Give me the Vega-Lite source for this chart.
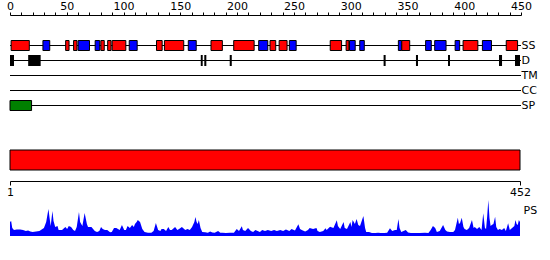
{
  "$schema": "https://vega.github.io/schema/vega-lite/v6.json",
  "padding": {"left": 6, "top": 0, "right": 5, "bottom": 0},
  "bounds": "flush",
  "spacing": 30,
  "config": {
    "view": {"stroke": null},
    "font": "DejaVu Sans",
    "axis": {"labelFont": "DejaVu Sans", "labelFontSize": 11, "labelColor": "#000", "domainColor": "#000", "tickColor": "#000", "grid": false, "title": null}
  },
  "resolve": {"scale": {"x": "independent", "y": "independent"}},
  "datasets": {
    "tracks": [
      {"track": "SS", "start": 0, "end": 450},
      {"track": "D", "start": 0, "end": 450},
      {"track": "TM", "start": 0, "end": 450},
      {"track": "CC", "start": 0, "end": 450},
      {"track": "SP", "start": 0, "end": 450}
    ],
    "features": [
      {"track": "SS", "type": "H", "start": 1, "end": 17},
      {"track": "SS", "type": "E", "start": 29, "end": 35},
      {"track": "SS", "type": "H", "start": 49, "end": 52},
      {"track": "SS", "type": "H", "start": 56, "end": 59},
      {"track": "SS", "type": "E", "start": 60, "end": 70},
      {"track": "SS", "type": "E", "start": 75, "end": 79},
      {"track": "SS", "type": "H", "start": 80, "end": 83},
      {"track": "SS", "type": "H", "start": 86, "end": 89},
      {"track": "SS", "type": "H", "start": 90, "end": 102},
      {"track": "SS", "type": "E", "start": 105, "end": 112},
      {"track": "SS", "type": "H", "start": 129, "end": 134},
      {"track": "SS", "type": "H", "start": 136, "end": 153},
      {"track": "SS", "type": "E", "start": 157, "end": 164},
      {"track": "SS", "type": "H", "start": 177, "end": 187},
      {"track": "SS", "type": "H", "start": 197, "end": 215},
      {"track": "SS", "type": "E", "start": 219, "end": 227},
      {"track": "SS", "type": "H", "start": 229, "end": 234},
      {"track": "SS", "type": "H", "start": 237, "end": 244},
      {"track": "SS", "type": "E", "start": 246, "end": 252},
      {"track": "SS", "type": "H", "start": 282, "end": 292},
      {"track": "SS", "type": "H", "start": 296, "end": 298.5},
      {"track": "SS", "type": "E", "start": 299, "end": 304},
      {"track": "SS", "type": "E", "start": 308, "end": 312},
      {"track": "SS", "type": "E", "start": 342, "end": 345},
      {"track": "SS", "type": "H", "start": 345, "end": 352},
      {"track": "SS", "type": "E", "start": 366, "end": 371},
      {"track": "SS", "type": "E", "start": 374, "end": 384},
      {"track": "SS", "type": "E", "start": 392, "end": 396},
      {"track": "SS", "type": "H", "start": 399, "end": 412},
      {"track": "SS", "type": "E", "start": 416, "end": 424},
      {"track": "SS", "type": "H", "start": 437, "end": 447},
      {"track": "SP", "type": "SP", "start": 0, "end": 19}
    ],
    "disorder": [
      {"track": "D", "start": 0, "end": 3.5},
      {"track": "D", "start": 16, "end": 27},
      {"track": "D", "start": 168, "end": 169.7},
      {"track": "D", "start": 171.1, "end": 172.9},
      {"track": "D", "start": 193.5, "end": 195.3},
      {"track": "D", "start": 329, "end": 330.8},
      {"track": "D", "start": 357.5, "end": 359.3},
      {"track": "D", "start": 385.7, "end": 387.5},
      {"track": "D", "start": 430.6, "end": 433.3},
      {"track": "D", "start": 444.7, "end": 449.1}
    ],
    "seq": [{"start": 1, "end": 452}],
    "profile": [
      {"r":1,"h":14},{"r":2,"h":15},{"r":3,"h":8},{"r":4.5,"h":6},{"r":7,"h":6.5},{"r":10,"h":6.5},{"r":12.5,"h":6},{"r":15,"h":5},{"r":17,"h":5.5},{"r":19,"h":4.5},{"r":21,"h":4},{"r":24,"h":4.5},{"r":27,"h":5},{"r":29,"h":6.5},{"r":31,"h":8},{"r":33,"h":14},{"r":35,"h":27},{"r":36,"h":18},{"r":37,"h":10},{"r":38.5,"h":25},{"r":39.5,"h":15},{"r":41,"h":9},{"r":43,"h":10},{"r":44,"h":6},{"r":47,"h":6},{"r":50,"h":9},{"r":51.5,"h":7},{"r":53,"h":10},{"r":55,"h":9},{"r":57,"h":6},{"r":58.5,"h":5},{"r":60,"h":9},{"r":62,"h":24},{"r":63,"h":14},{"r":65,"h":10},{"r":67,"h":23},{"r":69,"h":12},{"r":70,"h":9},{"r":73,"h":9},{"r":74.5,"h":7},{"r":76,"h":5},{"r":78,"h":4},{"r":80,"h":5},{"r":81.5,"h":9},{"r":83,"h":7},{"r":85,"h":6},{"r":87,"h":6},{"r":89.5,"h":3.7},{"r":91,"h":4},{"r":93,"h":8},{"r":95,"h":8},{"r":96.5,"h":7},{"r":98,"h":6},{"r":100,"h":11},{"r":102,"h":6},{"r":103.5,"h":6},{"r":105,"h":10},{"r":107,"h":8},{"r":109,"h":11},{"r":110.5,"h":9},{"r":111.5,"h":12},{"r":113,"h":14},{"r":114,"h":16},{"r":116,"h":14},{"r":118,"h":7},{"r":120,"h":4},{"r":123,"h":3.3},{"r":126,"h":3.3},{"r":128,"h":5},{"r":130,"h":13},{"r":132,"h":6},{"r":134,"h":5},{"r":135,"h":7},{"r":137,"h":7},{"r":139,"h":5},{"r":141,"h":9},{"r":142.5,"h":6},{"r":144,"h":6},{"r":147,"h":9},{"r":149,"h":6},{"r":150.5,"h":7},{"r":153,"h":9},{"r":156,"h":6},{"r":158,"h":7},{"r":160,"h":6},{"r":162,"h":9},{"r":164,"h":14},{"r":165,"h":19},{"r":166,"h":14},{"r":167,"h":12},{"r":168,"h":16},{"r":169.5,"h":8},{"r":171,"h":4},{"r":173.5,"h":3.7},{"r":176,"h":3.3},{"r":178,"h":4.5},{"r":180,"h":3.5},{"r":182,"h":3.3},{"r":185,"h":5},{"r":187,"h":3.3},{"r":189,"h":3.3},{"r":192,"h":3},{"r":195.5,"h":3.3},{"r":199,"h":3.3},{"r":201.5,"h":7},{"r":203.5,"h":5},{"r":206,"h":9.7},{"r":207,"h":6},{"r":209,"h":5},{"r":211.5,"h":8},{"r":214,"h":5},{"r":216,"h":4},{"r":218,"h":6},{"r":220,"h":5},{"r":222,"h":4},{"r":224,"h":6},{"r":226.5,"h":5},{"r":229,"h":6},{"r":232,"h":5},{"r":234.5,"h":6},{"r":237,"h":5},{"r":240,"h":6},{"r":242.5,"h":5},{"r":245,"h":6.5},{"r":248,"h":5},{"r":250,"h":7},{"r":253,"h":5.5},{"r":256,"h":11.7},{"r":257.5,"h":7},{"r":259,"h":6},{"r":262,"h":4.5},{"r":264.5,"h":6},{"r":266,"h":8},{"r":269,"h":7},{"r":272,"h":8},{"r":273,"h":5},{"r":275,"h":4},{"r":278,"h":5},{"r":280,"h":7.7},{"r":281,"h":6},{"r":284,"h":9.3},{"r":287,"h":8},{"r":290,"h":15.7},{"r":291,"h":10},{"r":293,"h":7},{"r":296,"h":14},{"r":297,"h":8},{"r":299,"h":7},{"r":302,"h":14},{"r":303,"h":9},{"r":304,"h":16},{"r":306,"h":12},{"r":307.5,"h":17},{"r":309,"h":11},{"r":310.5,"h":10},{"r":313.5,"h":20},{"r":315,"h":8},{"r":316,"h":4},{"r":318.5,"h":4},{"r":321,"h":3},{"r":324,"h":3},{"r":326.5,"h":3.3},{"r":329,"h":3},{"r":332,"h":3},{"r":334.5,"h":3.3},{"r":337,"h":7.7},{"r":339,"h":5},{"r":341.5,"h":6},{"r":343,"h":6},{"r":344.5,"h":17},{"r":345.5,"h":8},{"r":347,"h":4},{"r":349,"h":5},{"r":351,"h":6},{"r":353,"h":3.5},{"r":355.5,"h":3},{"r":359,"h":3},{"r":363.5,"h":3},{"r":368,"h":3.3},{"r":371,"h":3},{"r":373,"h":6},{"r":375,"h":10},{"r":377,"h":8},{"r":378.5,"h":4},{"r":381,"h":5},{"r":384,"h":11},{"r":386,"h":6},{"r":387.5,"h":4.5},{"r":390,"h":4},{"r":393,"h":4},{"r":394.5,"h":6},{"r":397,"h":18.3},{"r":398,"h":12},{"r":399,"h":13},{"r":400.5,"h":18.3},{"r":402,"h":9},{"r":403,"h":7},{"r":405,"h":6},{"r":407,"h":8},{"r":409.5,"h":16},{"r":411,"h":8},{"r":412,"h":9},{"r":414,"h":7},{"r":416,"h":9},{"r":418,"h":6},{"r":419.5,"h":22.7},{"r":421,"h":8},{"r":422,"h":7},{"r":423,"h":20},{"r":424,"h":36},{"r":425,"h":18},{"r":426,"h":10},{"r":427,"h":11},{"r":428.5,"h":12},{"r":430,"h":19.3},{"r":431,"h":9},{"r":432.5,"h":6},{"r":434,"h":7},{"r":436,"h":6},{"r":438,"h":8},{"r":439.5,"h":5},{"r":441.5,"h":12.7},{"r":443,"h":6},{"r":445,"h":8},{"r":447,"h":10},{"r":448,"h":16},{"r":449,"h":12},{"r":450,"h":11},{"r":451,"h":16},{"r":452,"h":14}
    ]
  },
  "vconcat": [
    {
      "width": 511,
      "height": 90,
      "resolve": {"axis": {"x": "independent", "y": "independent"}},
      "layer": [
        {
          "data": {"name": "tracks"},
          "mark": {"type": "rule", "color": "black", "strokeWidth": 1, "yOffset": 0.5},
          "encoding": {
            "x": {
              "field": "start", "type": "quantitative",
              "scale": {"domain": [0, 450], "nice": false, "zero": false},
              "axis": {
                "orient": "top",
                "offset": 15,
                "values": [0,10,20,30,40,50,60,70,80,90,100,110,120,130,140,150,160,170,180,190,200,210,220,230,240,250,260,270,280,290,300,310,320,330,340,350,360,370,380,390,400,410,420,430,440,450],
                "labelExpr": "datum.value % 50 === 0 ? datum.label : ''",
                "tickSize": 3, "labelPadding": 1, "labelOverlap": false, "labelFlush": false, "labelBound": false
              }
            },
            "x2": {"field": "end"},
            "y": {
              "field": "track", "type": "nominal",
              "scale": {"type": "point", "domain": ["SS", "D", "TM", "CC", "SP"], "padding": 1},
              "axis": {"orient": "right", "ticks": false, "tickSize": 0, "domain": false, "labelPadding": 0}
            }
          }
        },
        {
          "data": {"name": "features"},
          "mark": {"type": "bar", "size": 10, "stroke": "black", "strokeWidth": 1, "yOffset": 0.5},
          "encoding": {
            "x": {"field": "start", "type": "quantitative", "axis": null},
            "x2": {"field": "end"},
            "y": {"field": "track", "type": "nominal", "axis": null},
            "color": {"field": "type", "type": "nominal", "scale": {"domain": ["H", "E", "SP"], "range": ["#ff0000", "#0000ff", "#008000"]}, "legend": null}
          }
        },
        {
          "data": {"name": "disorder"},
          "mark": {"type": "bar", "size": 11, "color": "black", "yOffset": 0.5},
          "encoding": {
            "x": {"field": "start", "type": "quantitative", "axis": null},
            "x2": {"field": "end"},
            "y": {"field": "track", "type": "nominal", "axis": null}
          }
        }
      ]
    },
    {
      "width": 510,
      "height": 20,
      "data": {"name": "seq"},
      "mark": {"type": "rect", "fill": "#ff0000", "stroke": "black", "strokeWidth": 1},
      "encoding": {
        "x": {
          "field": "start", "type": "quantitative",
          "scale": {"domain": [1, 452], "nice": false, "zero": false},
          "axis": {"orient": "bottom", "values": [1, 452], "tickSize": 4, "labelPadding": 1, "offset": 11, "labelFlush": false, "labelOverlap": false}
        },
        "x2": {"field": "end"}
      }
    },
    {
      "width": 510,
      "height": 36,
      "data": {"name": "profile"},
      "mark": {"type": "area", "color": "#0000ff", "interpolate": "linear"},
      "encoding": {
        "x": {"field": "r", "type": "quantitative", "scale": {"domain": [1, 452], "nice": false, "zero": false}, "axis": null},
        "y": {
          "field": "h", "type": "quantitative",
          "scale": {"domain": [0, 36], "nice": false},
          "axis": {"orient": "right", "values": [26], "labelExpr": "'PS'", "ticks": false, "tickSize": 0, "domain": false, "labelPadding": 3}
        }
      }
    }
  ]
}
